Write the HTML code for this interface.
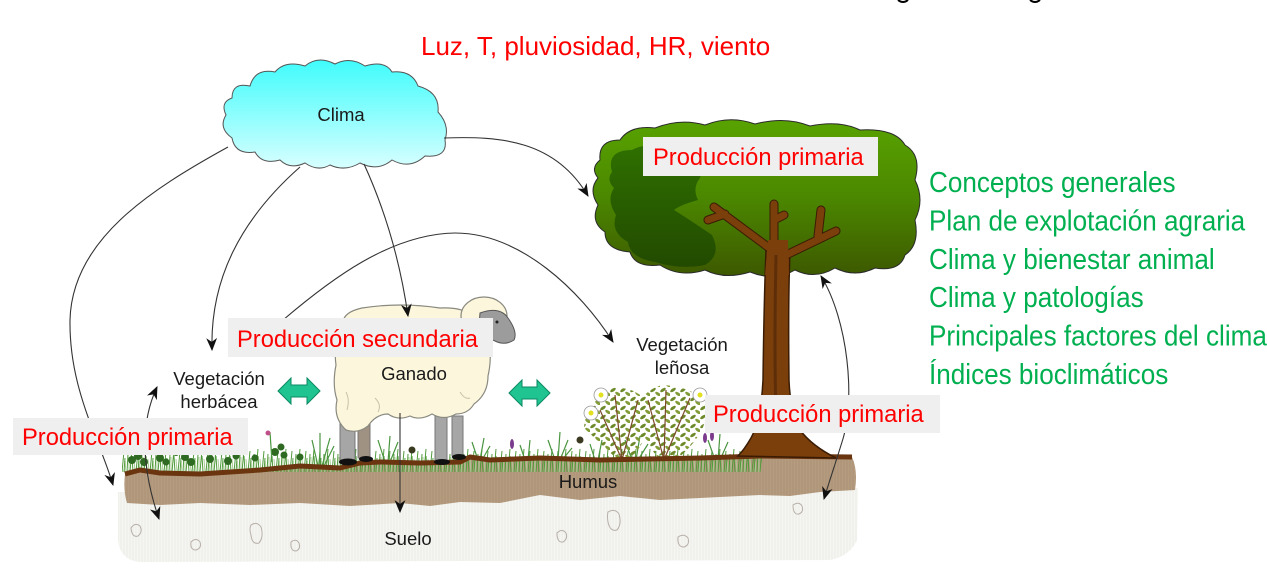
<!DOCTYPE html>
<html><head><meta charset="utf-8">
<style>
html,body{margin:0;padding:0;background:#fff;}
svg{display:block;}
</style></head>
<body>
<svg width="1267" height="568" viewBox="0 0 1267 568" xmlns="http://www.w3.org/2000/svg" font-family="'Liberation Sans', Arial, sans-serif">
<defs>
  <linearGradient id="cloudG" x1="0" y1="0" x2="0" y2="1">
    <stop offset="0" stop-color="#3ffcfc"/>
    <stop offset="1" stop-color="#d8ffff"/>
  </linearGradient>
  <linearGradient id="crownG" x1="0" y1="0" x2="0" y2="1">
    <stop offset="0" stop-color="#58a300"/>
    <stop offset="0.5" stop-color="#4b8700"/>
    <stop offset="1" stop-color="#3d5800"/>
  </linearGradient>
  <linearGradient id="darkG" x1="0" y1="0" x2="0" y2="1">
    <stop offset="0" stop-color="#2f7000"/>
    <stop offset="1" stop-color="#224a00"/>
  </linearGradient>
  <pattern id="soilP" x="0" y="0" width="3" height="6" patternUnits="userSpaceOnUse">
    <rect width="3" height="6" fill="#f5f5f2"/>
    <line x1="1" y1="0" x2="1" y2="6" stroke="#e9e9e5" stroke-width="0.8"/>
  </pattern>
  <pattern id="humusP" x="0" y="0" width="3" height="6" patternUnits="userSpaceOnUse">
    <rect width="3" height="6" fill="#b69c7f"/>
    <line x1="1" y1="0" x2="1" y2="6" stroke="#a88e71" stroke-width="0.8"/>
  </pattern>
  <pattern id="grass" x="0" y="446" width="14" height="26" patternUnits="userSpaceOnUse">
    <path d="M1,26 L2,8 M4,26 L6,3 M7,26 L6,10 M10,26 L12,5 M12,26 L13,12" stroke="#4f9a3a" stroke-width="1" fill="none"/>
    <path d="M3,26 L3,11 M9,26 L8,13 M13,26 L14,15" stroke="#a9cc95" stroke-width="1" fill="none"/>
  </pattern>
  <pattern id="leaf" x="0" y="0" width="10" height="9" patternUnits="userSpaceOnUse">
    <ellipse cx="3" cy="3" rx="3.2" ry="1.5" transform="rotate(-35 3 3)" fill="#6d8a2a"/>
    <ellipse cx="8" cy="7" rx="3.2" ry="1.5" transform="rotate(35 8 7)" fill="#819c36"/>
  </pattern>
  <marker id="ah" viewBox="0 0 12 10" refX="11" refY="5" markerWidth="13" markerHeight="11" markerUnits="userSpaceOnUse" orient="auto-start-reverse">
    <path d="M0,0 L12,5 L0,10 L3.5,5 Z" fill="#111"/>
  </marker>
</defs>

<!-- top cut descenders -->
<path d="M898,0 Q903,4 908,0" stroke="#000" stroke-width="2" fill="none"/>
<path d="M1030,0 Q1035,4 1040,0" stroke="#000" stroke-width="2" fill="none"/>

<!-- Luz text -->
<text x="421" y="55" font-size="26" fill="#ff0000">Luz, T, pluviosidad, HR, viento</text>

<!-- Cloud -->
<path d="M232,98 Q232,82 250,86 Q255,68 275,72 Q285,60 305,66 Q318,55 335,64 Q350,56 365,66 Q385,60 392,72 Q412,70 418,86 Q440,92 438,112 Q450,125 445,140 Q448,158 425,156 Q410,170 392,160 Q378,172 360,163 Q345,172 330,165 Q318,172 305,163 Q290,170 280,160 Q262,165 255,152 Q235,155 232,138 Q218,128 226,115 Q220,102 232,98 Z" fill="url(#cloudG)" stroke="#555" stroke-width="1"/>
<text x="341" y="121" font-size="18.5" fill="#1a1a1a" text-anchor="middle">Clima</text>

<!-- Soil -->
<path d="M118,492 L858,488 L857,540 Q850,556 830,560 L140,562 Q120,560 118,540 Z" fill="url(#soilP)"/>
<!-- pebbles -->
<g fill="none" stroke="#b8b0a8" stroke-width="1">
  <path d="M131,528 q4,-6 9,-2 q3,6 -2,10 q-6,2 -7,-8 Z"/>
  <path d="M191,542 q5,-5 9,0 q2,6 -4,8 q-6,0 -5,-8 Z"/>
  <path d="M251,525 q6,-4 10,2 q3,10 -2,16 q-7,2 -8,-8 q-2,-6 0,-10 Z"/>
  <path d="M291,542 q5,-4 8,1 q2,6 -3,8 q-6,0 -5,-9 Z"/>
  <path d="M557,533 q5,-5 9,0 q2,6 -3,9 q-6,1 -6,-9 Z"/>
  <path d="M608,512 q7,-4 11,2 q3,10 -2,16 q-7,2 -9,-8 q-1,-6 0,-10 Z"/>
  <path d="M678,537 q6,-4 10,1 q2,7 -4,9 q-7,0 -6,-10 Z"/>
  <path d="M793,505 q6,-4 9,1 q2,6 -3,8 q-6,1 -6,-9 Z"/>
</g>

<!-- Humus band -->
<path d="M125,474 L140,470 L160,473 L200,474 L260,470 L300,466 L340,468 L360,463 L380,462 L420,463 L460,462 L470,457 L490,460 L540,458 L600,460 L700,458 L760,456 L852,457 Q858,470 855,490 L820,492 L790,496 L760,495 L700,498 L660,500 L620,496 L580,500 L540,495 L500,503 L460,502 L430,506 L400,503 L350,506 L300,503 L250,505 L200,503 L160,505 L127,503 Q123,490 125,474 Z" fill="url(#humusP)"/>

<!-- Grass -->
<rect x="122" y="446" width="640" height="26" fill="url(#grass)"/>
<g fill="#2f6a22">
  <circle cx="132" cy="460" r="4"/><circle cx="138" cy="456" r="4"/><circle cx="144" cy="462" r="4"/>
  <circle cx="160" cy="458" r="4"/><circle cx="166" cy="462" r="3.5"/><circle cx="185" cy="457" r="4"/>
  <circle cx="191" cy="462" r="4"/><circle cx="210" cy="459" r="4"/><circle cx="228" cy="461" r="4"/>
  <circle cx="236" cy="456" r="3.5"/><circle cx="255" cy="458" r="3.5"/><circle cx="275" cy="452" r="4"/>
  <circle cx="281" cy="447" r="3.5"/><circle cx="284" cy="455" r="3.5"/><circle cx="300" cy="457" r="3.5"/>
  <circle cx="150" cy="452" r="3"/><circle cx="176" cy="453" r="3"/><circle cx="219" cy="452" r="3"/>
</g>
<g stroke="#4a9540" stroke-width="1.2" fill="none">
  <path d="M318,466 L312,440 M320,466 L320,433 M322,466 L330,438 M324,466 L334,446"/>
  <path d="M385,462 L378,440 M388,462 L390,436 M390,462 L398,442"/>
  <path d="M478,460 L472,442 M480,460 L484,438 M482,460 L490,446"/>
  <path d="M555,460 L548,440 M558,460 L560,432 M560,460 L568,440 M562,460 L572,448"/>
  <path d="M632,460 L625,440 M636,460 L640,436 M638,460 L648,444"/>
  <path d="M715,460 L708,440 M718,460 L720,434 M720,460 L728,442"/>
  <path d="M272,462 L270,432"/>
  <path d="M525,460 L520,445 M528,460 L530,440 M595,460 L590,444 M598,460 L602,440"/>
</g>
<g fill="#7b3a8c">
  <ellipse cx="344" cy="436" rx="2" ry="5"/>
  <ellipse cx="268" cy="433" rx="2.5" ry="2.5" fill="#c0508a"/>
  <ellipse cx="512" cy="444" rx="2" ry="5"/>
  <ellipse cx="705" cy="438" rx="2" ry="5"/>
  <ellipse cx="712" cy="436" rx="2" ry="5"/>
</g>
<circle cx="412" cy="450" r="3.5" fill="#3a3a20"/>
<circle cx="580" cy="440" r="3.5" fill="#3a3a20"/>

<!-- Shrubs -->
<path d="M618,460 L584,428 Q586,398 612,388 Q634,386 648,402 Q656,430 630,460 Z" fill="url(#leaf)"/>
<path d="M660,460 L632,425 Q636,392 662,385 Q690,386 706,402 Q712,430 676,460 Z" fill="url(#leaf)"/>
<g stroke="#7b4a2a" stroke-width="1.2" fill="none">
  <path d="M622,460 L600,410 M622,460 L615,395 M622,460 L638,400 M664,460 L648,400 M664,460 L666,390 M664,460 L690,398"/>
</g>
<g>
  <circle cx="601" cy="395" r="7" fill="#fff" stroke="#999" stroke-width="0.8"/><circle cx="601" cy="395" r="2.5" fill="#e3e020"/>
  <circle cx="591" cy="413" r="7" fill="#fff" stroke="#999" stroke-width="0.8"/><circle cx="591" cy="413" r="2.5" fill="#e3e020"/>
  <circle cx="700" cy="395" r="7" fill="#fff" stroke="#999" stroke-width="0.8"/><circle cx="700" cy="395" r="2.5" fill="#e3e020"/>
</g>

<!-- ground top line -->
<path d="M125,474 L140,470 L160,473 L200,474 L260,470 L300,466 L340,468 L360,463 L380,462 L420,463 L460,462 L470,457 L490,460 L540,458 L600,460 L700,458 L760,456 L852,457" fill="none" stroke="#6b3510" stroke-width="5" stroke-linejoin="round"/>

<!-- Tree crown -->
<path d="M600,160 Q598,140 620,140 Q630,125 655,128 Q680,118 705,125 Q730,115 755,124 Q785,116 810,126 Q840,120 860,130 Q895,128 905,145 Q922,155 915,180 Q925,200 915,220 Q920,245 905,255 Q900,272 875,268 Q855,278 835,268 Q815,280 795,270 Q775,282 750,272 Q725,280 705,270 Q680,278 660,265 Q635,268 630,252 Q605,250 605,232 Q590,222 598,205 Q588,190 598,178 Q590,168 600,160 Z" fill="url(#crownG)" stroke="#2a2a2a" stroke-width="1"/>
<path d="M612,172 Q606,150 632,150 Q650,140 690,148 Q705,160 700,178 Q692,188 698,200 Q680,205 674,210 Q690,220 712,235 Q722,255 705,265 Q680,270 655,262 Q630,258 628,242 Q610,232 616,215 Q606,200 614,188 Q606,180 612,172 Z" fill="url(#darkG)"/>

<!-- Tree trunk and branches -->
<path d="M766,250 Q764,300 763,380 Q761,420 751,438 Q744,450 738,456 L836,458 Q812,446 800,430 Q790,410 789,380 Q788,300 790,252 Z" fill="#7b3f0c" stroke="#3a1c05" stroke-width="1.5"/>
<g stroke="#3a1c05" stroke-linecap="round" fill="none">
  <path d="M772,250 L714,207 M725,214 L708,220 M774,250 L774,204 M774,220 L784,215 M784,256 L836,231 M818,236 L821,210" stroke-width="9"/>
</g>
<g stroke="#7b3f0c" stroke-linecap="round" fill="none">
  <path d="M772,250 L714,207 M725,214 L708,220 M774,250 L774,204 M774,220 L784,215 M784,256 L836,231 M818,236 L821,210" stroke-width="7"/>
</g>
<path d="M768,240 L788,240 L789,275 L765,275 Z" fill="#7b3f0c"/>
<path d="M776,255 Q774,340 776,420" stroke="#5e2e08" stroke-width="3" fill="none"/>

<!-- Sheep -->
<g stroke="#777" stroke-width="1">
  <rect x="340" y="418" width="15" height="42" fill="#a6a6a6"/>
  <rect x="358" y="422" width="12" height="36" fill="#a09282"/>
  <rect x="435" y="416" width="12" height="44" fill="#a6a6a6"/>
  <rect x="452" y="416" width="11" height="40" fill="#a6a6a6"/>
</g>
<g fill="#111">
  <ellipse cx="348" cy="462" rx="9" ry="3.5"/>
  <ellipse cx="366" cy="459" rx="7" ry="3"/>
  <ellipse cx="442" cy="462" rx="8" ry="3"/>
  <ellipse cx="459" cy="457" rx="7" ry="3"/>
</g>
<path d="M343,322 Q333,345 336,365 Q332,385 337,400 Q333,418 346,430 Q358,434 368,426 Q376,414 388,414 Q398,421 410,416 Q420,421 432,414 Q444,421 456,414 Q468,414 474,404 Q488,394 488,376 Q494,350 484,330 Q474,306 440,308 Q400,302 362,308 Q344,312 343,322 Z" fill="#fcf6dc" stroke="#8a8a80" stroke-width="1.2"/>
<path d="M346,392 Q350,400 347,410 M375,398 Q382,405 378,412 M460,392 Q465,400 470,398" stroke="#c8c2aa" stroke-width="1" fill="none"/>
<ellipse cx="484" cy="316" rx="23" ry="19" fill="#fcf6dc" stroke="#8a8a80" stroke-width="1.2"/>
<path d="M480,313 Q500,306 508,318 Q518,332 514,340 Q505,346 495,341 Q483,336 479,326 Z" fill="#9c9c9c" stroke="#555" stroke-width="1"/>
<ellipse cx="472" cy="324" rx="6" ry="4" fill="#8a8a8a" stroke="#555" stroke-width="0.8"/>
<circle cx="497" cy="322" r="1.5" fill="#222"/>

<!-- Arrows -->
<g fill="none" stroke="#333" stroke-width="1.1">
  <path d="M228,147 C150,190 72,240 70,320 C69,390 100,440 113,485" marker-end="url(#ah)"/>
  <path d="M300,167 C240,220 210,280 212,350" marker-end="url(#ah)"/>
  <path d="M364,164 C385,210 400,260 408,316" marker-end="url(#ah)"/>
  <path d="M444,138 C500,136 555,140 588,196" marker-end="url(#ah)"/>
  <path d="M283,320 C330,280 390,234 455,233 C520,233 580,290 613,342" marker-end="url(#ah)"/>
  <path d="M157,387 Q132,440 159,519" marker-start="url(#ah)" marker-end="url(#ah)"/>
  <path d="M400,413 L400,512" marker-end="url(#ah)"/>
  <path d="M821,276 C848,320 856,400 842,442 C834,468 829,482 824,499" marker-start="url(#ah)" marker-end="url(#ah)"/>
</g>

<!-- Green double arrows -->
<path d="M278,391 L291,378 L291,385 L307,385 L307,378 L320,391 L307,404 L307,397 L291,397 L291,404 Z" fill="#1fc490" stroke="#0b8a62" stroke-width="1"/>
<path d="M509,393 L522,380 L522,387 L537,387 L537,380 L550,393 L537,406 L537,399 L522,399 L522,406 Z" fill="#1fc490" stroke="#0b8a62" stroke-width="1"/>

<!-- Black labels -->
<g font-size="18.5" fill="#1a1a1a" text-anchor="middle">
  <text x="219" y="385">Vegetación</text>
  <text x="219" y="408">herbácea</text>
  <text x="414" y="380">Ganado</text>
  <text x="682" y="351">Vegetación</text>
  <text x="682" y="374">leñosa</text>
  <text x="588" y="488">Humus</text>
  <text x="408" y="545">Suelo</text>
</g>

<!-- Red label boxes -->
<rect x="643" y="137" width="235" height="39" fill="#efefef"/>
<text x="653" y="165" font-size="23.7" fill="#ff0000">Producción primaria</text>
<rect x="228" y="318" width="265" height="39" fill="#efefef"/>
<text x="237" y="347" font-size="23.7" fill="#ff0000">Producción secundaria</text>
<rect x="13" y="418" width="235" height="37" fill="#efefef"/>
<text x="22" y="445" font-size="23.7" fill="#ff0000">Producción primaria</text>
<rect x="705" y="395" width="235" height="38" fill="#efefef"/>
<text x="713" y="422" font-size="23.7" fill="#ff0000">Producción primaria</text>

<!-- Green list -->
<g transform="translate(929,0) scale(0.9,1)" font-size="29" fill="#00b050">
  <text x="0" y="192">Conceptos generales</text>
  <text x="0" y="230.5">Plan de explotación agraria</text>
  <text x="0" y="268.8">Clima y bienestar animal</text>
  <text x="0" y="307">Clima y patologías</text>
  <text x="0" y="345.5">Principales factores del clima</text>
  <text x="0" y="383.8">Índices bioclimáticos</text>
</g>
</svg>
</body></html>
